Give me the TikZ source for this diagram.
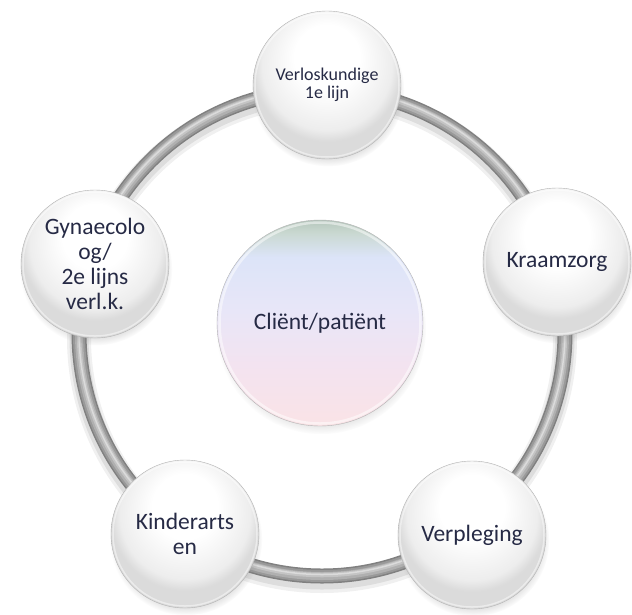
\documentclass[tikz,border=0pt]{standalone}
\usepackage{fontspec}
\setmainfont{Carlito}
\usetikzlibrary{shadows,fadings}
\definecolor{txt}{HTML}{262A45}
\definecolor{pk}{HTML}{FAE3E6}
\definecolor{pkb}{HTML}{F3E3F0}
\definecolor{lav}{HTML}{E8E6F8}
\definecolor{lb}{HTML}{DCE4F8}
\definecolor{gg}{HTML}{C9D8D0}
\definecolor{ggb}{HTML}{B5C6BC}
\pgfdeclareradialshading{ballshade}{\pgfpoint{0bp}{12bp}}{color(0bp)=(white); color(11bp)=(white); color(22bp)=(black!7); color(25bp)=(black!14); color(50bp)=(black!14)}
\pgfdeclareverticalshading{centershade}{100bp}{color(0bp)=(pk); color(25bp)=(pk); color(40bp)=(pkb); color(53bp)=(lav); color(66bp)=(lb); color(72bp)=(gg); color(75bp)=(ggb); color(100bp)=(ggb)}
\tikzset{
  ball/.style={circle, minimum size=148pt, inner sep=0pt, shading=ballshade,
    draw=black!30, line width=0.4pt, align=center, text=txt,
    font=\fontsize{23.5}{25}\selectfont,
    circular drop shadow={shadow xshift=1pt, shadow yshift=-5pt, shadow scale=1.03, opacity=.3}},
  hub/.style={circle, minimum size=206pt, inner sep=0pt, shading=centershade,
    draw=black!30, line width=0.4pt, align=center, text=txt,
    font=\fontsize{23.5}{25}\selectfont,
    circular drop shadow={shadow xshift=1pt, shadow yshift=-6pt, shadow scale=1.02, opacity=.3}},
  smalltext/.style={font=\fontsize{18}{18.5}\selectfont}
}
\begin{document}
\begin{tikzpicture}[x=1pt,y=-1pt]
\fill[white] (0,0) rectangle (632,614);
\useasboundingbox (0,0) rectangle (632,614);
% ring
\coordinate (rc) at (322,333);
\draw[black, opacity=.06, line width=24pt] ([yshift=-5pt]rc) circle[radius=243];
\draw[black, opacity=.08, line width=19pt] ([yshift=-4pt]rc) circle[radius=243];
\draw[black!50, line width=15pt] (rc) circle[radius=243];
\draw[black!40, line width=12pt] (rc) circle[radius=243];
\draw[black!31, line width=8pt] (rc) circle[radius=243];
\draw[black!23, line width=4.5pt] ([yshift=1pt]rc) circle[radius=243];
\draw[black!14, line width=1.5pt] ([yshift=1.5pt]rc) circle[radius=243];
% outer nodes
\node[ball, smalltext] (ver) at (327,85) {Verloskundige\\1e lijn};
\node[ball] (kraam) at (557,262) {Kraamzorg};
\node[ball] (verpl) at (472,535) {Verpleging};
\node[ball] (kind) at (185,534) {Kinderarts\\en};
\node[ball] (gyn) at (95,264) {Gynaecolo\\og/\\2e lijns\\verl.k.};
% inner bevel highlights
\foreach \n in {ver,kraam,verpl,kind,gyn}{
  \draw[white, opacity=.45, line width=1.5pt] (\n.center) circle[radius=72];
}
% hub
\node[hub] (cli) at (320,323) {Cliënt/patiënt};
\draw[white, opacity=.5, line width=2.5pt] (cli.center) circle[radius=100.5];
\end{tikzpicture}
\end{document}
